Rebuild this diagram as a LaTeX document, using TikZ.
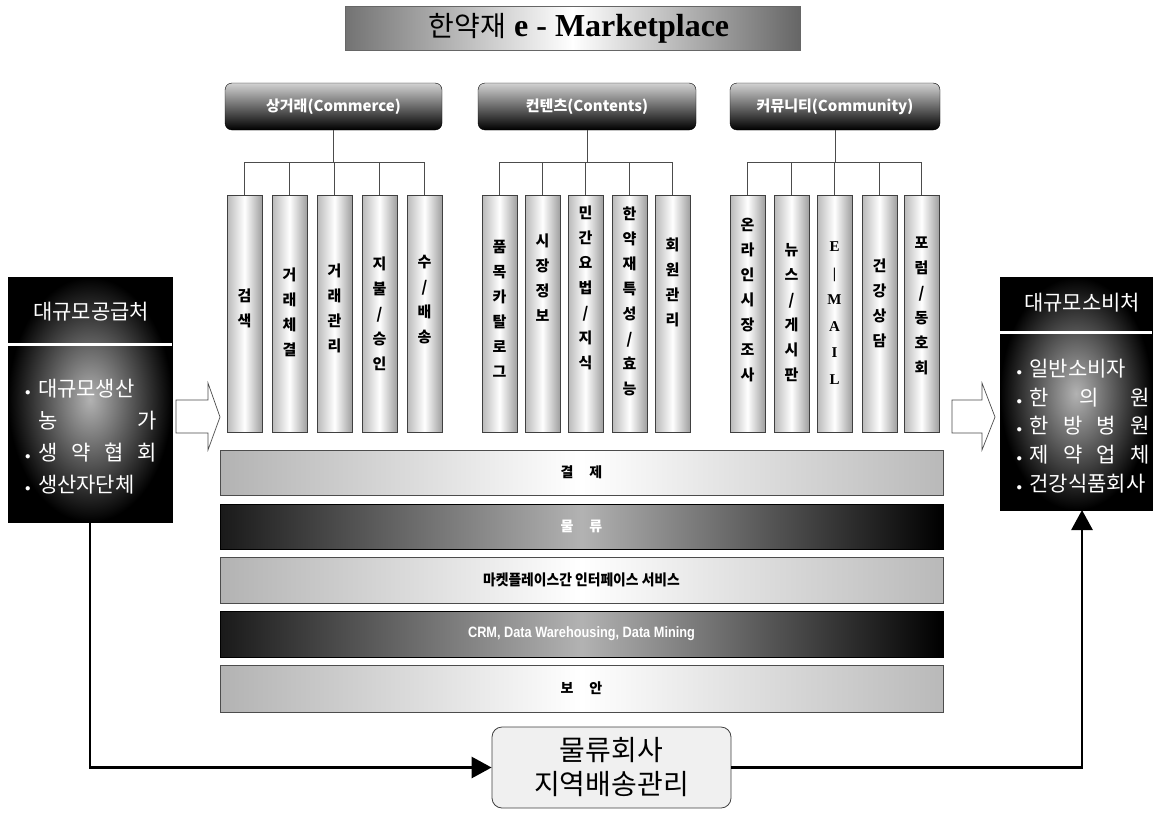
\documentclass[tikz,border=0pt]{standalone}
\usepackage{fontspec}
\usepackage{graphicx}
\setmainfont{Liberation Serif}
\newfontfamily\kr{Noto Sans CJK KR}
\newfontfamily\lsans{Liberation Sans}
\usetikzlibrary{arrows.meta}
\newcommand\bul{\makebox[13pt][l]{\raisebox{1pt}{\fontsize{11}{11}\selectfont$\bullet$}}}
\tikzset{
  col/.style={draw=black!75, line width=0.6pt, left color=gray!55, right color=gray!75, middle color=white,
    minimum width=35pt, minimum height=237pt, inner sep=0pt, outer sep=0pt},
  ctext/.style={font=\kr\bfseries\fontsize{15}{25}\selectfont, align=center, inner sep=0pt, text=black},
  hdr/.style={rounded corners=7pt, draw=black, top color=gray!35, bottom color=black, minimum height=47pt,
    inner sep=0pt, outer sep=0pt, text=white, font=\kr\bfseries\fontsize{15}{17}\selectfont},
  conn/.style={draw=black!70, line width=0.7pt},
  lbar/.style={draw=black!70, line width=0.6pt, left color=gray!60, right color=gray!55, middle color=white,
    minimum width=723pt, inner sep=0pt, outer sep=0pt, text=black, font=\kr\bfseries\fontsize{14}{16}\selectfont},
  dbar/.style={draw=black, line width=0.6pt, left color=black!90, right color=black, middle color=gray!60,
    minimum width=723pt, inner sep=0pt, outer sep=0pt, text=white, font=\kr\bfseries\fontsize{14}{16}\selectfont},
  sidebox/.style={inner color=gray!60, outer color=black, inner sep=0pt, outer sep=0pt, draw=black},
  sidetxt/.style={text=white, inner sep=0pt, font=\kr\fontsize{21}{32}\selectfont, align=left},
  flow/.style={line width=2.8pt, draw=black, -{Triangle[length=20pt,width=21pt]}},
  hollow/.style={draw=black!70, line width=0.7pt, fill=white},
  logbox/.style={draw=black!75, line width=0.8pt, rounded corners=10pt, fill=gray!12, inner sep=0pt,
    minimum width=239pt, minimum height=81pt, align=center, font=\kr\fontsize{28}{34}\selectfont}
}
\begin{document}
\begin{tikzpicture}[x=1pt,y=-1pt]
\fill[white] (0,0) rectangle (1156,814);
\useasboundingbox (0,0) rectangle (1156,814);

% title banner
\node[draw=black!60, left color=black!55, right color=black!60, middle color=white,
  minimum width=455pt, minimum height=44pt, inner sep=0pt] (banner) at (572.5,28) {};
\node[inner sep=0pt] (btitle) at (579,28) {{\kr\fontsize{28}{30}\selectfont 한약재}\hspace{8pt}{\bfseries\fontsize{32}{36}\selectfont e - Marketplace}};

% headers
\node[hdr, minimum width=217pt] (hA) at (333.5,106.5) {상거래(Commerce)};
\node[hdr, minimum width=218pt] (hB) at (587,106.5) {컨텐츠(Contents)};
\node[hdr, minimum width=210pt] (hC) at (835,106.5) {커뮤니티(Community)};

% columns
\node[col] (a1) at (244.5,313.5) {};
\node[col] (a2) at (289.5,313.5) {};
\node[col] (a3) at (334.5,313.5) {};
\node[col] (a4) at (379.5,313.5) {};
\node[col] (a5) at (424.5,313.5) {};
\node[col] (b1) at (499.5,313.5) {};
\node[col] (b2) at (542.5,313.5) {};
\node[col] (b3) at (585.5,313.5) {};
\node[col] (b4) at (629.5,313.5) {};
\node[col] (b5) at (672.5,313.5) {};
\node[col] (c1) at (747.5,313.5) {};
\node[col] (c2) at (791.5,313.5) {};
\node[col] (c3) at (834.5,313.5) {};
\node[col] (c4) at (879.5,313.5) {};
\node[col] (c5) at (921.5,313.5) {};

% column texts
\node[ctext] (ta1) at (244.5,308) {검\\색};
\node[ctext] (ta2) at (289.5,312) {거\\래\\체\\결};
\node[ctext] (ta3) at (334.5,308) {거\\래\\관\\리};
\node[ctext] (ta4) at (379.5,314) {지\\불\\/\\승\\인};
\node[ctext] (ta5) at (424.5,300) {수\\/\\배\\송};
\node[ctext] (tb1) at (499.5,309) {품\\목\\카\\탈\\로\\그};
\node[ctext] (tb2) at (542.5,278) {시\\장\\정\\보};
\node[ctext] (tb3) at (585.5,288) {민\\간\\요\\법\\/\\지\\식};
\node[ctext] (tb4) at (629.5,301) {한\\약\\재\\특\\성\\/\\효\\능};
\node[ctext] (tb5) at (672.5,282) {회\\원\\관\\리};
\node[ctext] (tc1) at (747.5,300) {온\\라\\인\\시\\장\\조\\사};
\node[ctext] (tc2) at (791.5,313) {뉴\\스\\/\\게\\시\\판};
\node[ctext, font=\bfseries\fontsize{15}{26.5}\selectfont] (tc3) at (834.5,313) {E\\|\\M\\A\\I\\L};
\node[ctext] (tc4) at (879.5,303) {건\\강\\상\\담};
\node[ctext] (tc5) at (921.5,306) {포\\럼\\/\\동\\호\\회};

% connectors header -> columns
\coordinate (busA) at (334.5,162);
\coordinate (busB) at (585.5,162);
\coordinate (busC) at (834.5,162);
\draw[conn] (hA.south) -- (hA.south |- busA);
\draw[conn] (hB.south) -- (hB.south |- busB);
\draw[conn] (hC.south) -- (hC.south |- busC);
\draw[conn] (a1.north) -- (a1.north |- busA) -- (a5.north |- busA) -- (a5.north);
\draw[conn] (a2.north) -- (a2.north |- busA);
\draw[conn] (a3.north) -- (a3.north |- busA);
\draw[conn] (a4.north) -- (a4.north |- busA);
\draw[conn] (b1.north) -- (b1.north |- busB) -- (b5.north |- busB) -- (b5.north);
\draw[conn] (b2.north) -- (b2.north |- busB);
\draw[conn] (b3.north) -- (b3.north |- busB);
\draw[conn] (b4.north) -- (b4.north |- busB);
\draw[conn] (c1.north) -- (c1.north |- busC) -- (c5.north |- busC) -- (c5.north);
\draw[conn] (c2.north) -- (c2.north |- busC);
\draw[conn] (c3.north) -- (c3.north |- busC);
\draw[conn] (c4.north) -- (c4.north |- busC);

% horizontal bars
\node[lbar, minimum height=45pt] (bar1) at (581.5,472.5) {결\hspace{16pt}제};
\node[dbar, minimum height=45pt] (bar2) at (581.5,526.5) {물\hspace{16pt}류};
\node[lbar, minimum height=46pt, font=\kr\bfseries\fontsize{15}{17}\selectfont] (bar3) at (581.5,580) {\scalebox{0.92}[1]{마켓플레이스간 인터페이스 서비스}};
\node[dbar, minimum height=46pt, font=\lsans\bfseries\fontsize{15}{17}\selectfont] (bar4) at (581.5,634) {\scalebox{0.85}[1]{CRM, Data Warehousing, Data Mining}};
\node[lbar, minimum height=47pt] (bar5) at (581.5,688.5) {보\hspace{16pt}안};

% left side box
\node[sidebox, minimum width=164pt, minimum height=245pt] (src) at (90,399.5) {};
\draw[white, line width=3pt] (src.west |- 0,344) -- (src.east |- 0,344);
\node[sidetxt] (srct) at (91,312) {대규모공급처};
\node[sidetxt] (srcb) at (91,437) {\bul 대규모생산\\
\makebox[132pt][s]{\hspace*{13pt}농 가}\\
\makebox[132pt][s]{\bul 생 약 협 회}\\
\bul 생산자단체};

% right side box
\node[sidebox, minimum width=152pt, minimum height=233pt] (dst) at (1076,393.5) {};
\draw[white, line width=3pt] (dst.west |- 0,332) -- (dst.east |- 0,332);
\node[sidetxt] (dstt) at (1082,303) {대규모소비처};
\node[sidetxt, font=\kr\fontsize{21}{28.8}\selectfont] (dstb) at (1083,426) {\bul 일반소비자\\
\makebox[133pt][s]{\bul 한 의 원}\\
\makebox[133pt][s]{\bul 한 방 병 원}\\
\makebox[133pt][s]{\bul 제 약 업 체}\\
\bul 건강식품회사};

% hollow arrows
\draw[hollow] (176,400) -- (208,400) -- (208,383) -- (220,417) -- (208,450) -- (208,433) -- (176,433) -- cycle;
\draw[hollow] (952,400) -- (982,400) -- (982,383) -- (995,417) -- (982,450) -- (982,433) -- (952,433) -- cycle;

% logistics box
\node[logbox] (log) at (611.5,767.5) {물류회사\\지역배송관리};

% flows
\draw[flow] (src.south) |- (log.west);
\draw[flow] (log.east) -| ([xshift=6pt]dst.south);
\end{tikzpicture}
\end{document}
